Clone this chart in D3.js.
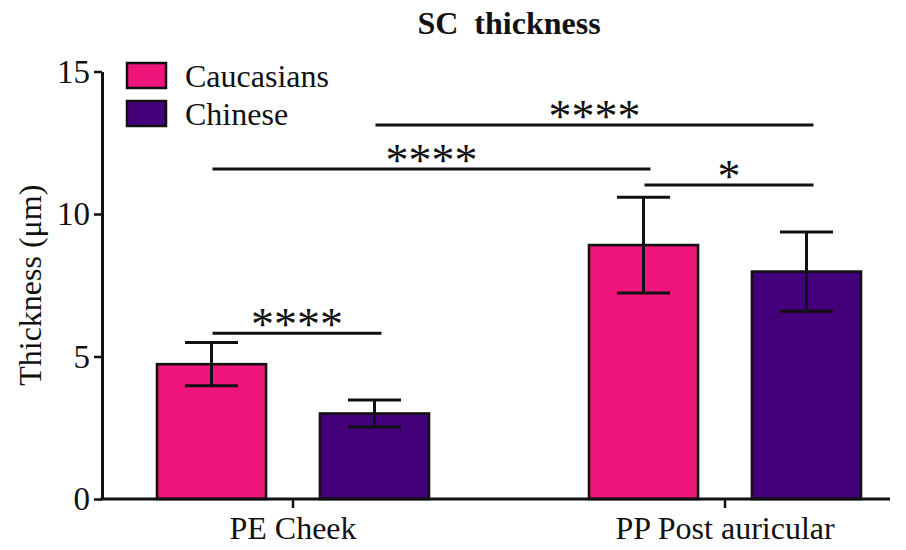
<!DOCTYPE html>
<html>
<head>
<meta charset="utf-8">
<script src="https://cdn.jsdelivr.net/npm/d3@7"></script>
<style>
  html, body { margin: 0; padding: 0; background: #ffffff; }
  svg { display: block; }
  text { font-family: "Liberation Serif", "Times New Roman", serif; fill: #111; }
</style>
</head>
<body>
<svg id="chart" width="906" height="550"></svg>
<script>
// ---- data ----
const categories = ["PE Cheek", "PP Post auricular"];
const seriesNames = ["Caucasians", "Chinese"];
const caucasiansMean = [4.73, 8.91];
const caucasiansSD   = [0.76, 1.68];
const chineseMean    = [3.00, 7.98];
const chineseSD      = [0.47, 1.39];
const yTicks = [0, 5, 10, 15];
// significance brackets
const compFrom   = [["PE Cheek", "Chinese"], ["PE Cheek", "Caucasians"], ["PP Post auricular", "Caucasians"], ["PE Cheek", "Caucasians"]];
const compTo     = [["PP Post auricular", "Chinese"], ["PP Post auricular", "Caucasians"], ["PP Post auricular", "Chinese"], ["PE Cheek", "Chinese"]];
const compHeight = [13.12, 11.58, 11.02, 5.82];
const compLabel  = ["****", "****", "*", "****"];

const colors = { "Caucasians": "#F0157A", "Chinese": "#43007A" };

const data = [];
categories.forEach((c, i) => {
  data.push({ cat: c, series: "Caucasians", mean: caucasiansMean[i], sd: caucasiansSD[i] });
  data.push({ cat: c, series: "Chinese", mean: chineseMean[i], sd: chineseSD[i] });
});

// ---- layout ----
const svg = d3.select("#chart");
const axisLeft = 102, axisRight = 890;
const y0px = 499, y15px = 71.5;

const y = d3.scaleLinear().domain([0, 15]).range([y0px, y15px]);
const x = d3.scalePoint().domain(categories).range([293, 725]);
const xs = d3.scaleBand().domain(seriesNames).range([-136, 136]).paddingInner(0.331).paddingOuter(0);
const bw = xs.bandwidth();
const barCenter = (c, s) => x(c) + xs(s) + bw / 2;

// bars
svg.append("g").selectAll("rect").data(data).join("rect")
  .attr("x", d => x(d.cat) + xs(d.series))
  .attr("y", d => y(d.mean))
  .attr("width", bw)
  .attr("height", d => y(0) - y(d.mean))
  .attr("fill", d => colors[d.series])
  .attr("stroke", "#111")
  .attr("stroke-width", 2.6);

// error bars
const capHalf = 26.5;
const eg = svg.append("g").attr("stroke", "#111").attr("stroke-width", 3).attr("fill", "none");
data.forEach(d => {
  const cx = barCenter(d.cat, d.series);
  eg.append("line").attr("x1", cx).attr("x2", cx).attr("y1", y(d.mean + d.sd)).attr("y2", y(d.mean - d.sd));
  eg.append("line").attr("x1", cx - capHalf).attr("x2", cx + capHalf).attr("y1", y(d.mean + d.sd)).attr("y2", y(d.mean + d.sd));
  eg.append("line").attr("x1", cx - capHalf).attr("x2", cx + capHalf).attr("y1", y(d.mean - d.sd)).attr("y2", y(d.mean - d.sd));
});

// y axis
const yAxis = d3.axisLeft(y).tickValues(yTicks).tickSize(8).tickPadding(4).tickSizeOuter(0);
const gy = svg.append("g").attr("transform", `translate(${axisLeft},0)`).call(yAxis);
gy.select(".domain").attr("stroke", "#111").attr("stroke-width", 3);
gy.selectAll(".tick line").attr("stroke", "#111").attr("stroke-width", 2.5);
gy.selectAll(".tick text").attr("font-size", 33).attr("fill", "#111")
  .style("font-family", '"Liberation Serif", serif');

// x axis
const gx = svg.append("g").attr("transform", `translate(0,${y0px})`);
gx.append("line").attr("x1", axisLeft - 1.5).attr("x2", axisRight).attr("y1", 0).attr("y2", 0)
  .attr("stroke", "#111").attr("stroke-width", 3);
categories.forEach(c => {
  gx.append("line").attr("x1", x(c)).attr("x2", x(c)).attr("y1", 0).attr("y2", 9)
    .attr("stroke", "#111").attr("stroke-width", 2.5);
  gx.append("text").attr("x", x(c)).attr("y", 40).attr("text-anchor", "middle")
    .attr("font-size", 32).text(c);
});

// y label
svg.append("text")
  .attr("transform", `translate(41,${(y0px + y15px) / 2}) rotate(-90)`)
  .attr("text-anchor", "middle").attr("font-size", 32)
  .text("Thickness (\u03BCm)");

// title
svg.append("text").attr("x", 509).attr("y", 34).attr("text-anchor", "middle")
  .attr("font-size", 32).attr("font-weight", "bold").style("white-space", "pre")
  .text("SC  thickness");

// significance brackets
const sg = svg.append("g");
compFrom.forEach((f, i) => {
  const t = compTo[i];
  const xa = barCenter(f[0], f[1]) + 1;
  const xb = barCenter(t[0], t[1]) + 7;
  const yy = y(compHeight[i]);
  sg.append("line").attr("x1", xa).attr("x2", xb).attr("y1", yy).attr("y2", yy)
    .attr("stroke", "#111").attr("stroke-width", 3);
  sg.append("text").attr("x", (xa + xb) / 2).attr("y", yy + 7)
    .attr("text-anchor", "middle").attr("font-size", 46).text(compLabel[i]);
});

// legend
const lg = svg.append("g");
seriesNames.forEach((s, i) => {
  const yy = 63 + i * 38;
  lg.append("rect").attr("x", 127).attr("y", yy).attr("width", 39).attr("height", 25)
    .attr("fill", colors[s]).attr("stroke", "#111").attr("stroke-width", 2.5);
  lg.append("text").attr("x", 185).attr("y", yy + 24).attr("font-size", 32).text(s);
});
</script>
</body>
</html>
